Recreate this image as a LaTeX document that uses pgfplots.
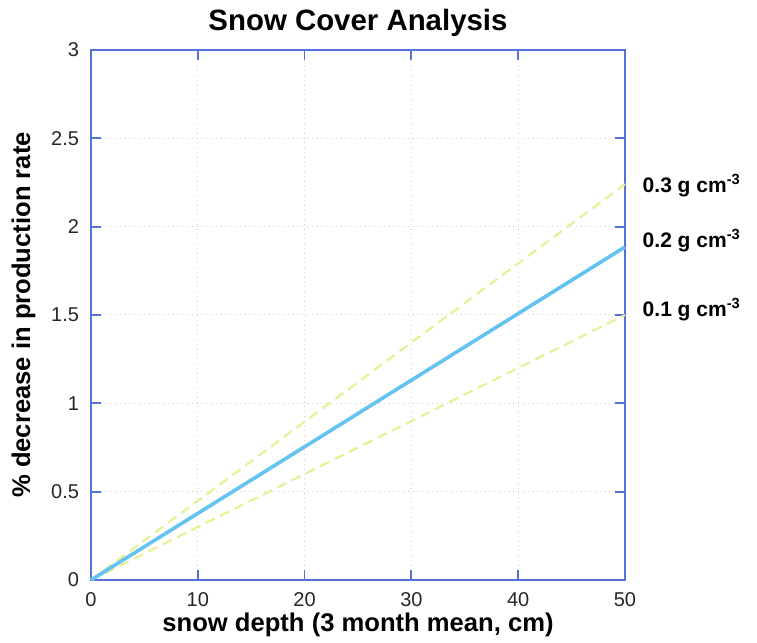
\documentclass[border=0pt]{standalone}
\usepackage{fontspec}
\setmainfont{Liberation Sans}
\usepackage{pgfplots}
\pgfplotsset{compat=1.18}
\definecolor{frameblue}{RGB}{85,115,215}
\definecolor{lineblue}{RGB}{100,195,240}
\definecolor{paleyellow}{RGB}{232,240,150}
\definecolor{gridgray}{RGB}{205,205,205}
\begin{document}
\begin{tikzpicture}
\useasboundingbox (-45.5pt,-31.5pt) rectangle (333pt,290pt);
\begin{axis}[
  scale only axis,
  width=267pt, height=265pt,
  xmin=0, xmax=50, ymin=0, ymax=3,
  xtick={0,10,...,50},
  ytick={0,0.5,...,3},
  yticklabels={0,0.5,1,1.5,2,2.5,3},
  tick align=inside,
  tick pos=both,
  major tick length=5pt,
  axis line style={frameblue, line width=0.9pt},
  every tick/.style={frameblue, line width=0.9pt},
  grid=major,
  major grid style={gridgray, dotted, line width=0.5pt},
  /pgf/number format/assume math mode=true,
  ticklabel style={font=\fontsize{10}{11}\selectfont, text=black!85},
  xticklabel style={yshift=-2.5pt},
  yticklabel style={xshift=-2.5pt},
  title={\textbf{Snow Cover Analysis}},
  title style={font=\fontsize{14.7}{17}\selectfont, yshift=-3pt},
  xlabel={\textbf{snow depth (3 month mean, cm)}},
  ylabel={\textbf{\% decrease in production rate}},
  label style={font=\fontsize{12.8}{14}\selectfont},
  xlabel style={yshift=3.5pt},
  ylabel style={yshift=1pt},
  clip=false,
]
\addplot[paleyellow, line width=1.1pt, dash pattern=on 5pt off 3pt] coordinates {(0,0) (50,2.24)};
\addplot[paleyellow, line width=1.1pt, dash pattern=on 5pt off 3pt] coordinates {(0,0) (50,1.50)};
\addplot[lineblue, line width=1.8pt] coordinates {(0,0) (50,1.885)};
\node[anchor=west, font=\fontsize{10.5}{12}\selectfont\bfseries] at (axis cs:51,2.23) {0.3 g cm\textsuperscript{-3}};
\node[anchor=west, font=\fontsize{10.5}{12}\selectfont\bfseries] at (axis cs:51,1.92) {0.2 g cm\textsuperscript{-3}};
\node[anchor=west, font=\fontsize{10.5}{12}\selectfont\bfseries] at (axis cs:51,1.53) {0.1 g cm\textsuperscript{-3}};
\end{axis}
\end{tikzpicture}
\end{document}
